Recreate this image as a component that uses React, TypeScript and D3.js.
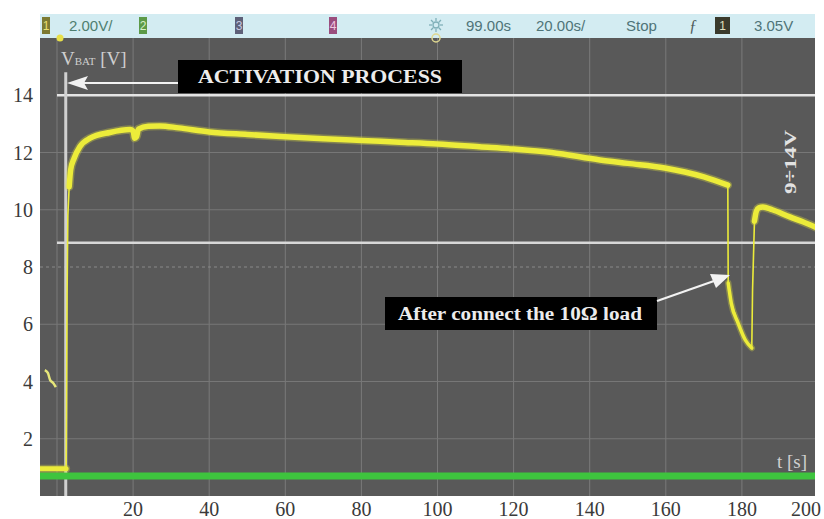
import React from 'react';
import * as d3 from 'd3';

// ---------- data ----------
const xTicks = [20, 40, 60, 80, 100, 120, 140, 160, 180, 200];
const yTicks = [2, 4, 6, 8, 10, 12, 14];
const gridT = [0, 20, 40, 60, 80, 100, 120, 140, 160, 180];
const gridV = [2, 4, 6, 10, 12];
const centerV = 8;
const upperLimitV = 14;
const lowerLimitV = 8.85;
const cursorT = 2.3;
const supplyV = 0.7;

const idleT = [-4.5, 2.4];
const idleV = [0.95, 0.95];
const riseT = [2.4, 2.5, 2.65, 2.85, 3.2];
const riseV = [0.95, 3, 7, 9.8, 10.8];
const plateauT = [3.2, 3.6, 4.5, 6, 8.7, 13.9, 19.2, 20.0, 20.4, 20.9, 21.4, 24, 27, 32, 40, 50, 60, 70, 80, 90, 100, 111, 120, 130, 142.7, 150, 159.7, 165, 170, 176.3];
const plateauV = [10.8, 11.4, 11.8, 12.2, 12.5, 12.7, 12.8, 12.75, 12.5, 12.55, 12.82, 12.92, 12.93, 12.86, 12.72, 12.63, 12.55, 12.48, 12.42, 12.36, 12.3, 12.2, 12.12, 12.0, 11.74, 11.62, 11.46, 11.32, 11.15, 10.86];
const dropT = [176.3, 176.4];
const dropV = [10.86, 7.44];
const loadT = [176.4, 177.2, 179.0, 180.9, 182.6];
const loadV = [7.44, 6.74, 6.04, 5.45, 5.17];
const jumpT = [182.6, 182.8, 183.3];
const jumpV = [5.17, 7.2, 9.6];
const recoveryT = [183.3, 183.8, 184.5, 185.5, 188, 192.6, 196, 199.5];
const recoveryV = [9.6, 9.95, 10.07, 10.1, 10.0, 9.75, 9.58, 9.38];
const markerT = [-3.2, -2.4, -1.8, -1.0, -0.3];
const markerV = [4.4, 4.3, 4.05, 3.95, 3.8];

const topBar = [
  { text: '2.00V/', x: 69, color: '#4f7f70' },
  { text: '99.00s', x: 466, color: '#4f7478' },
  { text: '20.00s/', x: 536, color: '#4f7478' },
  { text: 'Stop', x: 626, color: '#4f7478' },
  { text: '3.05V', x: 754, color: '#4f7478' },
];
const badges = [
  { label: '1', x: 42, w: 8, bg: '#7c7a32', fg: '#e8e070' },
  { label: '2', x: 139, w: 8, bg: '#5c9a48', fg: '#d8f0c8' },
  { label: '3', x: 235, w: 8, bg: '#5e6078', fg: '#c8c8e0' },
  { label: '4', x: 329, w: 8, bg: '#9a4e7e', fg: '#f0c8e0' },
  { label: '1', x: 715, w: 15, bg: '#3a3a2c', fg: '#e0e0c0' },
];

// ---------- layout ----------
const W = 824, H = 519;
const plotL = 40, plotR = 815, plotT = 38, plotB = 496;

const x = d3.scaleLinear().domain([0, 200]).range([57, 818]);
const y = d3.scaleLinear().domain([0, 16]).range([plotB, plotT]);

const mk = (ts: number[], vs: number[]) =>
  d3.line<number>().x((_, i) => x(ts[i])).y((v) => y(v)).curve(d3.curveMonotoneX)(vs) || '';

const serif = '"Liberation Serif", "Times New Roman", serif';
const sans = '"Liberation Sans", Arial, sans-serif';

export default function App() {
  const fullT = [...idleT, ...riseT.slice(1), ...plateauT.slice(1), ...dropT.slice(1), ...loadT.slice(1), ...jumpT.slice(1), ...recoveryT.slice(1)];
  const fullV = [...idleV, ...riseV.slice(1), ...plateauV.slice(1), ...dropV.slice(1), ...loadV.slice(1), ...jumpV.slice(1), ...recoveryV.slice(1)];
  const thinPath = d3.line<number>().x((_, i) => x(fullT[i])).y((v) => y(v))(fullV) || '';
  const thick = [
    { d: mk(idleT, idleV), w: 5 },
    { d: mk(plateauT, plateauV), w: 5.5 },
    { d: mk(loadT, loadV), w: 3.5 },
    { d: mk(recoveryT, recoveryV), w: 5.5 },
  ];
  const yellow = '#ecec3a';

  return (
    <svg width={W} height={H} style={{ position: 'absolute', left: 0, top: 0, background: '#fff' }}>
      <defs>
        <clipPath id="plotclip">
          <rect x={plotL} y={plotT} width={plotR - plotL} height={plotB - plotT} />
        </clipPath>
      </defs>
      <rect x={0} y={0} width={W} height={H} fill="#ffffff" />
      {/* top status band */}
      <rect x={plotL} y={14} width={plotR - plotL} height={24} fill="#d3ecf2" />
      {badges.map((b, i) => (
        <g key={'b' + i}>
          <rect x={b.x} y={17} width={b.w} height={17} fill={b.bg} />
          <text x={b.x + b.w / 2} y={30} textAnchor="middle" fontFamily={sans} fontSize={12} fill={b.fg}>{b.label}</text>
        </g>
      ))}
      {topBar.map((t, i) => (
        <text key={'t' + i} x={t.x} y={31} fontFamily={sans} fontSize={15} fill={t.color}>{t.text}</text>
      ))}
      <text x={689} y={31} fontFamily={serif} fontStyle="italic" fontSize={16} fill="#4f5a5a">ƒ</text>
      {/* sun icon */}
      <g stroke="#7fb0b8" strokeWidth={1.3}>
        {d3.range(8).map((k) => {
          const a = (k * Math.PI) / 4;
          return <line key={k} x1={436 + Math.cos(a) * 4} y1={25 + Math.sin(a) * 4} x2={436 + Math.cos(a) * 7} y2={25 + Math.sin(a) * 7} />;
        })}
        <circle cx={436} cy={25} r={3} fill="none" />
      </g>

      {/* plot background */}
      <rect x={plotL} y={plotT} width={plotR - plotL} height={plotB - plotT} fill="#595959" />
      <g clipPath="url(#plotclip)">
        {gridT.map((t) => (
          <line key={'gx' + t} x1={x(t)} x2={x(t)} y1={plotT} y2={plotB} stroke="#7a7a7a" strokeWidth={1} />
        ))}
        {gridV.map((v) => (
          <line key={'gy' + v} x1={plotL} x2={plotR} y1={y(v)} y2={y(v)} stroke="#777777" strokeWidth={1} />
        ))}
        <line x1={plotL} x2={plotR} y1={y(centerV)} y2={y(centerV)} stroke="#8a8a8a" strokeWidth={1.2} strokeDasharray="3,3" />
        {/* limit lines */}
        <line x1={x(0)} x2={plotR} y1={y(upperLimitV)} y2={y(upperLimitV)} stroke="#e4e4e4" strokeWidth={2.5} />
        <line x1={x(0)} x2={plotR} y1={y(lowerLimitV)} y2={y(lowerLimitV)} stroke="#d8d8d8" strokeWidth={2.5} />
        {/* cursor line */}
        <line x1={x(cursorT)} x2={x(cursorT)} y1={y(14.8)} y2={plotB} stroke="#d0d0d0" strokeWidth={3} />
        {/* supply line */}
        <line x1={plotL} x2={plotR} y1={y(supplyV)} y2={y(supplyV)} stroke="#3ec43e" strokeWidth={7} />
        {/* trace */}
        <path d={thinPath} fill="none" stroke={yellow} strokeWidth={1.6} />
        {thick.map((s, i) => (
          <g key={'s' + i}>
            <path d={s.d} fill="none" stroke="#d8d840" strokeOpacity={0.35} strokeWidth={s.w + 3} strokeLinecap="round" />
            <path d={s.d} fill="none" stroke={yellow} strokeWidth={s.w} strokeLinecap="round" />
          </g>
        ))}
        <path d={mk(markerT, markerV)} fill="none" stroke="#e6e67a" strokeWidth={2.5} />
      </g>
      {/* trigger markers */}
      <circle cx={60} cy={38} r={3.5} fill="#e8e04a" />
      <circle cx={436} cy={38} r={4} fill="none" stroke="#e0d890" strokeWidth={1.5} />

      {/* axis labels */}
      {yTicks.map((v) => (
        <text key={'yl' + v} x={33} y={y(v) + 7} textAnchor="end" fontFamily={serif} fontSize={20} fill="#3a3a3a">{v}</text>
      ))}
      {xTicks.map((t) => (
        <text key={'xl' + t} x={Math.min(x(t), 806)} y={516} textAnchor="middle" fontFamily={serif} fontSize={20} fill="#3a3a3a">{t}</text>
      ))}

      {/* in-plot labels */}
      <text x={61} y={65} fontFamily={serif} fontSize={19} fill="#cfcfcf">
        V<tspan fontSize={11}>BAT</tspan><tspan> [V]</tspan>
      </text>
      <text x={807} y={468} textAnchor="end" fontFamily={serif} fontSize={19} fill="#d0d0d0">t [s]</text>
      <text transform="translate(796,162) rotate(-90)" textAnchor="middle" fontFamily={serif} fontWeight="bold" fontSize={17} fill="#e2e2e2" textLength={64} lengthAdjust="spacingAndGlyphs">9÷14V</text>

      {/* activation annotation */}
      <rect x={178} y={60} width={284} height={33} fill="#000" />
      <text x={320} y={83} textAnchor="middle" fontFamily={serif} fontWeight="bold" fontSize={19} fill="#ececec" textLength={244} lengthAdjust="spacingAndGlyphs">ACTIVATION PROCESS</text>
      <line x1={178} x2={84} y1={83} y2={83} stroke="#f2f2f2" strokeWidth={2.2} />
      <path d="M67,83 L88,76 L84,83 L88,90 Z" fill="#f2f2f2" />

      {/* load annotation */}
      <rect x={385} y={297} width={272} height={33} fill="#000" />
      <text x={520} y={320} textAnchor="middle" fontFamily={serif} fontWeight="bold" fontSize={18} fill="#ececec" textLength={244} lengthAdjust="spacingAndGlyphs">After connect the 10Ω load</text>
      <line x1={657} y1={301} x2={714} y2={281} stroke="#f2f2f2" strokeWidth={2.2} />
      <path d="M730,275 L710,274 L713,281 L716,288 Z" fill="#f2f2f2" />
    </svg>
  );
}
